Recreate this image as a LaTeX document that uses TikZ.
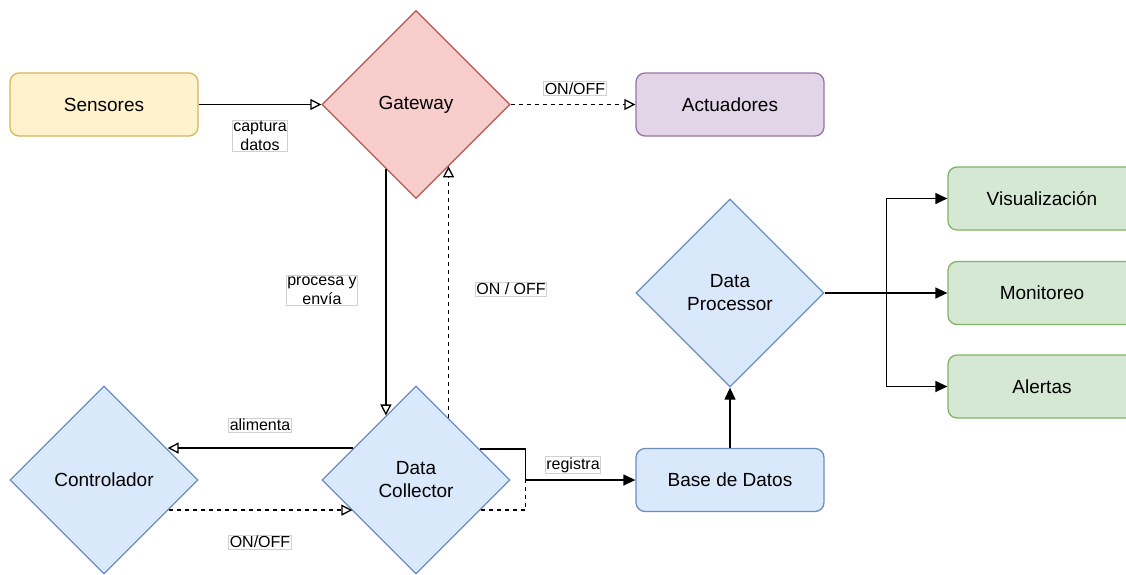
\documentclass[tikz,border=0pt]{standalone}
\usepackage{fontspec}
\setmainfont{Liberation Sans}
\usetikzlibrary{shapes.geometric,arrows.meta,calc}

\definecolor{yelFill}{HTML}{FFF2CC}\definecolor{yelLine}{HTML}{D6B656}
\definecolor{redFill}{HTML}{F8CECC}\definecolor{redLine}{HTML}{B85450}
\definecolor{purFill}{HTML}{E1D5E7}\definecolor{purLine}{HTML}{9673A6}
\definecolor{bluFill}{HTML}{DAE8FC}\definecolor{bluLine}{HTML}{6C8EBF}
\definecolor{grnFill}{HTML}{D5E8D4}\definecolor{grnLine}{HTML}{82B366}

\begin{document}
\begin{tikzpicture}[x=1pt,y=-1pt,
  base/.style={line width=1.3pt, font=\fontsize{19}{23}\selectfont, align=center, inner sep=0pt},
  box/.style={base, rectangle, rounded corners=9pt, minimum width=188pt, minimum height=63pt},
  dia/.style={base, diamond, aspect=1, minimum width=188pt, minimum height=188pt},
  lbl/.style={draw=black!18, line width=0.6pt, fill=white, inner sep=1pt,
              font=\fontsize{16}{19}\selectfont, align=center},
  wire/.style={line width=1.3pt},
  opentip/.style={wire, -{Triangle[open,length=11pt,width=11pt]}},
  solidtip/.style={wire, -{Triangle[length=12pt,width=11pt]}},
  dashline/.style={dash pattern=on 4pt off 4pt}
]
\useasboundingbox (0,0) rectangle (1126,574);

% --- nodes ---
\node[box, fill=yelFill, draw=yelLine] (sen) at (104,104.5) {Sensores};
\node[dia, fill=redFill, draw=redLine] (gw)  at (416,104.5) {Gateway};
\node[box, fill=purFill, draw=purLine] (act) at (730,104.5) {Actuadores};

\node[dia, fill=bluFill, draw=bluLine] (dc)   at (416,480) {Data\\Collector};
\node[dia, fill=bluFill, draw=bluLine] (ctrl) at (104,480) {Controlador};
\node[box, fill=bluFill, draw=bluLine] (bd)   at (730,480) {Base de Datos};
\node[dia, fill=bluFill, draw=bluLine] (dp)   at (730,293) {Data\\Processor};

\node[box, fill=grnFill, draw=grnLine] (vis) at (1042,198.5) {Visualización};
\node[box, fill=grnFill, draw=grnLine] (mon) at (1042,293) {Monitoreo};
\node[box, fill=grnFill, draw=grnLine] (ale) at (1042,386.5) {Alertas};

% --- helper points ---
\path (bd.west) ++(-110,0) coordinate (join);
\path (dp.east) ++(62,0) coordinate (split);
\coordinate (upx) at (448.5,0);

% --- connectors ---
\draw[opentip] (sen.east) -- (gw.west);
\draw[opentip, dashline] (gw.east) -- (act.west);
\draw[opentip] (gw.-115.1) -- (gw.-115.1 |- dc.115.1);
\draw[opentip, dashline] (dc.62.7 -| upx) -- (gw.-62.7 -| upx);
\draw[opentip] (dc.153.8) -- (dc.153.8 -| ctrl.26.2);
\draw[opentip, dashline] (ctrl.-25.5) -- (ctrl.-25.5 -| dc.-154.5);
\draw[solidtip] (dc.26.2) -| (join) -- (bd.west);
\draw[wire, dashline] (dc.-25.5) -| (join);
\draw[solidtip] (bd.north) -- (dp.south);
\draw[solidtip] (dp.east) -- (split) |- (vis.west);
\draw[solidtip] (split) -- (mon.west);
\draw[solidtip] (split) |- (ale.west);

% --- connector labels ---
\node[lbl] (lcap) at (260,136) {captura\\datos};
\node[lbl] (lon1) at (575,88.5) {ON/OFF};
\node[lbl] (lpro) at (322,290.5) {procesa y\\envía};
\node[lbl] (lon2) at (511,289) {ON / OFF};
\node[lbl] (lali) at (260,425) {alimenta};
\node[lbl] (lon3) at (260,542) {ON/OFF};
\node[lbl] (lreg) at (573,465) {registra};
\end{tikzpicture}
\end{document}
